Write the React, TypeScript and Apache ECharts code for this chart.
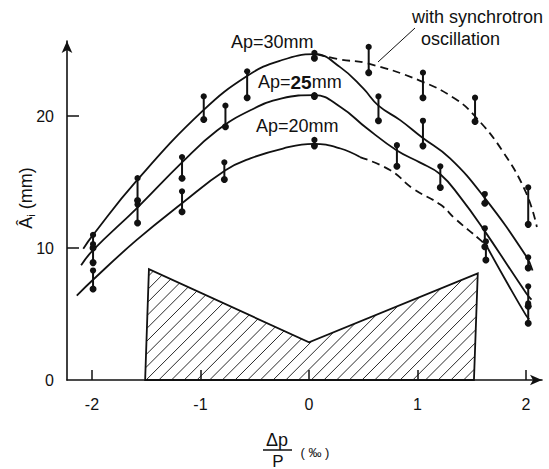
import React, { useEffect, useRef } from "react";
import * as echarts from "echarts";

const X_TICKS = [-2, -1, 0, 1, 2];
const Y_TICKS = [10, 20];
const Y_LABELS = [0, 10, 20];

const AP30: number[][] = [
  [-2.08, 9.95], [-1.99, 11.0], [-1.59, 15.1], [-0.98, 20.4], [-0.56, 23.1],
  [-0.27, 24.2], [0.05, 24.7], [0.29, 23.7], [0.5, 22.1], [0.64, 20.8], [0.84, 19.7],
  [1.04, 18.4], [1.3, 16.8], [1.61, 13.9], [2.0, 9.4], [2.06, 8.3],
];
const AP25: number[][] = [
  [-2.1, 8.7], [-1.99, 9.85], [-1.59, 13.0], [-1.17, 16.5], [-0.85, 18.9], [-0.54, 20.45],
  [-0.25, 21.35], [0.05, 21.6], [0.29, 20.7], [0.53, 19.1], [0.81, 17.4], [1.02, 16.5],
  [1.21, 15.6], [1.39, 13.9], [1.61, 11.4], [2.0, 6.6], [2.05, 6.1],
];
const AP20_SOLID_LEFT: number[][] = [
  [-2.14, 6.4], [-1.99, 7.6], [-1.59, 10.6], [-1.17, 13.4], [-0.77, 15.9],
  [-0.54, 16.8], [-0.24, 17.55], [0.04, 17.9], [0.29, 17.55], [0.47, 16.9],
];
const AP20_DASHED: number[][] = [
  [0.47, 16.9], [0.75, 15.9], [0.96, 14.5], [1.21, 13.3], [1.35, 12.2], [1.58, 10.6], [1.64, 10.1],
];
const AP20_SOLID_RIGHT: number[][] = [
  [1.64, 10.1], [1.82, 7.45], [2.0, 4.9], [2.03, 4.6],
];
const SYNCHROTRON: number[][] = [
  [0.07, 24.7], [0.29, 24.3], [0.54, 24.0], [1.02, 22.7], [1.35, 21.3], [1.54, 19.9],
  [1.78, 17.4], [2.0, 14.2], [2.1, 11.6],
];

// [dp/p, top, bottom]
const ERROR_BARS: number[][] = [
  [-1.99, 11.0, 10.0], [-1.99, 10.3, 8.9], [-1.99, 8.3, 6.9],
  [-1.58, 15.3, 13.6], [-1.58, 13.3, 11.9],
  [-1.17, 16.9, 15.3], [-1.17, 14.3, 12.75],
  [-0.97, 21.5, 19.75], [-0.77, 20.8, 19.2], [-0.78, 16.5, 15.2],
  [-0.57, 23.4, 21.4],
  [0.05, 24.8, 24.4], [0.05, 21.6, 21.5], [0.05, 18.2, 17.75],
  [0.55, 25.25, 23.3], [0.64, 21.5, 19.65], [0.81, 17.8, 16.2],
  [1.05, 23.3, 21.4], [1.05, 19.65, 17.75], [1.21, 16.2, 14.6],
  [1.53, 21.4, 19.6], [1.62, 14.1, 13.4], [1.62, 11.5, 10.1], [1.63, 10.5, 9.1],
  [2.02, 14.6, 11.8], [2.02, 9.3, 8.5], [2.02, 7.1, 5.6], [2.02, 5.8, 4.3],
];

// hatched acceptance polygon
const HATCH_X = [-1.51, -1.475, 0, 1.555, 1.52];
const HATCH_Y = [0, 8.4, 2.86, 8.08, 0];

const FONT = '"Liberation Sans", Arial, sans-serif';
const INK = "#111";

function lineSeries(data: number[][], dashed: boolean) {
  return {
    type: "line",
    data,
    showSymbol: false,
    smooth: 0.45,
    silent: true,
    lineStyle: { color: INK, width: 1.8, type: dashed ? [8, 5] : "solid" },
    z: 3,
  };
}

export default function App() {
  const ref = useRef<HTMLDivElement>(null);
  useEffect(() => {
    if (!ref.current) return;
    const chart = echarts.init(ref.current, null, { renderer: "svg" });
    const option: any = {
      animation: false,
      backgroundColor: "#fff",
      grid: { left: 67, right: 7, top: 41, bottom: 89 },
      xAxis: {
        type: "value",
        min: -2.23,
        max: 2.147,
        splitLine: { show: false },
        axisLine: {
          onZero: false,
          symbol: ["none", "arrow"],
          symbolSize: [8, 12],
          lineStyle: { color: INK, width: 1.6 },
        },
        axisTick: { inside: true, length: 10, customValues: X_TICKS, lineStyle: { color: INK, width: 1.5 } },
        axisLabel: { customValues: X_TICKS, fontSize: 16, fontFamily: FONT, color: INK, margin: 16 },
      },
      yAxis: {
        type: "value",
        min: 0,
        max: 25.7,
        splitLine: { show: false },
        axisLine: {
          onZero: false,
          symbol: ["none", "arrow"],
          symbolSize: [8, 12],
          lineStyle: { color: INK, width: 1.6 },
        },
        axisTick: { inside: true, length: 12, customValues: Y_TICKS, lineStyle: { color: INK, width: 1.5 } },
        axisLabel: { customValues: Y_LABELS, fontSize: 16, fontFamily: FONT, color: INK, margin: 13 },
      },
      series: [
        {
          type: "custom",
          data: [[0]],
          silent: true,
          z: 1,
          renderItem: (_p: any, api: any) => {
            const pts = HATCH_X.map((x, i) => api.coord([x, HATCH_Y[i]]));
            const children: any[] = [];
            const sums = pts.map((p: number[]) => p[0] + p[1]);
            const minC = Math.min(...sums);
            const maxC = Math.max(...sums);
            const step = 12.7;
            for (let c = minC + step / 2; c < maxC; c += step) {
              const hits: number[][] = [];
              for (let i = 0; i < pts.length; i++) {
                const a = pts[i];
                const b = pts[(i + 1) % pts.length];
                const fa = a[0] + a[1] - c;
                const fb = b[0] + b[1] - c;
                if ((fa <= 0 && fb > 0) || (fa > 0 && fb <= 0)) {
                  const t = fa / (fa - fb);
                  hits.push([a[0] + t * (b[0] - a[0]), a[1] + t * (b[1] - a[1])]);
                }
              }
              hits.sort((u, v) => u[0] - v[0]);
              for (let k = 0; k + 1 < hits.length; k += 2) {
                children.push({
                  type: "line",
                  shape: { x1: hits[k][0], y1: hits[k][1], x2: hits[k + 1][0], y2: hits[k + 1][1] },
                  style: { stroke: INK, lineWidth: 0.9 },
                });
              }
            }
            children.push({
              type: "polygon",
              shape: { points: pts },
              style: { fill: "none", stroke: INK, lineWidth: 1.8 },
            });
            return { type: "group", children };
          },
        },
        lineSeries(AP30, false),
        lineSeries(AP25, false),
        lineSeries(AP20_SOLID_LEFT, false),
        lineSeries(AP20_DASHED, true),
        lineSeries(AP20_SOLID_RIGHT, false),
        lineSeries(SYNCHROTRON, true),
        {
          type: "custom",
          data: ERROR_BARS,
          encode: { x: 0, y: [1, 2] },
          silent: true,
          z: 5,
          renderItem: (_p: any, api: any) => {
            const p1 = api.coord([api.value(0), api.value(1)]);
            const p2 = api.coord([api.value(0), api.value(2)]);
            return {
              type: "group",
              children: [
                { type: "line", shape: { x1: p1[0], y1: p1[1], x2: p2[0], y2: p2[1] }, style: { stroke: INK, lineWidth: 2 } },
                { type: "circle", shape: { cx: p1[0], cy: p1[1], r: 3.1 }, style: { fill: INK } },
                { type: "circle", shape: { cx: p2[0], cy: p2[1], r: 3.5 }, style: { fill: INK } },
              ],
            };
          },
        },
      ],
      graphic: [
        { type: "text", x: 231, y: 42, style: { text: "Ap=30mm", font: `18px ${FONT}`, fill: INK, textVerticalAlign: "middle" } },
        {
          type: "text",
          x: 258,
          y: 82,
          style: {
            text: "{n|Ap=}{b|25}{n|mm}",
            fill: INK,
            textVerticalAlign: "middle",
            rich: {
              n: { fontSize: 18, fontFamily: FONT, color: INK },
              b: { fontSize: 19, fontFamily: FONT, fontWeight: "bold", color: INK },
            },
          },
        },
        { type: "text", x: 256, y: 126, style: { text: "Ap=20mm", font: `18px ${FONT}`, fill: INK, textVerticalAlign: "middle" } },
        { type: "text", x: 412, y: 17, style: { text: "with synchrotron", font: `18px ${FONT}`, fill: INK, textVerticalAlign: "middle" } },
        { type: "text", x: 421, y: 39, style: { text: "oscillation", font: `18px ${FONT}`, fill: INK, textVerticalAlign: "middle" } },
        { type: "line", shape: { x1: 378, y1: 62, x2: 415, y2: 28 }, style: { stroke: INK, lineWidth: 1 } },
        {
          type: "text",
          x: 26,
          y: 198,
          rotation: Math.PI / 2,
          style: {
            text: "{a|Â}{b|i}{a| (mm)}",
            textAlign: "center",
            textVerticalAlign: "middle",
            fill: INK,
            rich: {
              a: { fontSize: 18, fontFamily: FONT, color: INK, lineHeight: 20 },
              b: { fontSize: 11, fontFamily: FONT, color: INK, verticalAlign: "bottom", lineHeight: 14 },
            },
          },
        },
        { type: "text", x: 277, y: 440, style: { text: "Δp", font: `18px ${FONT}`, fill: INK, textAlign: "center", textVerticalAlign: "middle" } },
        { type: "line", shape: { x1: 263, y1: 450, x2: 292, y2: 450 }, style: { stroke: INK, lineWidth: 1.5 } },
        { type: "text", x: 278, y: 461, style: { text: "P", font: `17px ${FONT}`, fill: INK, textAlign: "center", textVerticalAlign: "middle" } },
        { type: "text", x: 315, y: 452, style: { text: "( ‰ )", font: `13px ${FONT}`, fill: INK, textAlign: "center", textVerticalAlign: "middle" } },
      ],
    };
    chart.setOption(option);
    return () => chart.dispose();
  }, []);
  return (
    <div
      ref={ref}
      style={{ position: "fixed", left: 0, top: 0, width: 549, height: 469, background: "#fff" }}
    />
  );
}
